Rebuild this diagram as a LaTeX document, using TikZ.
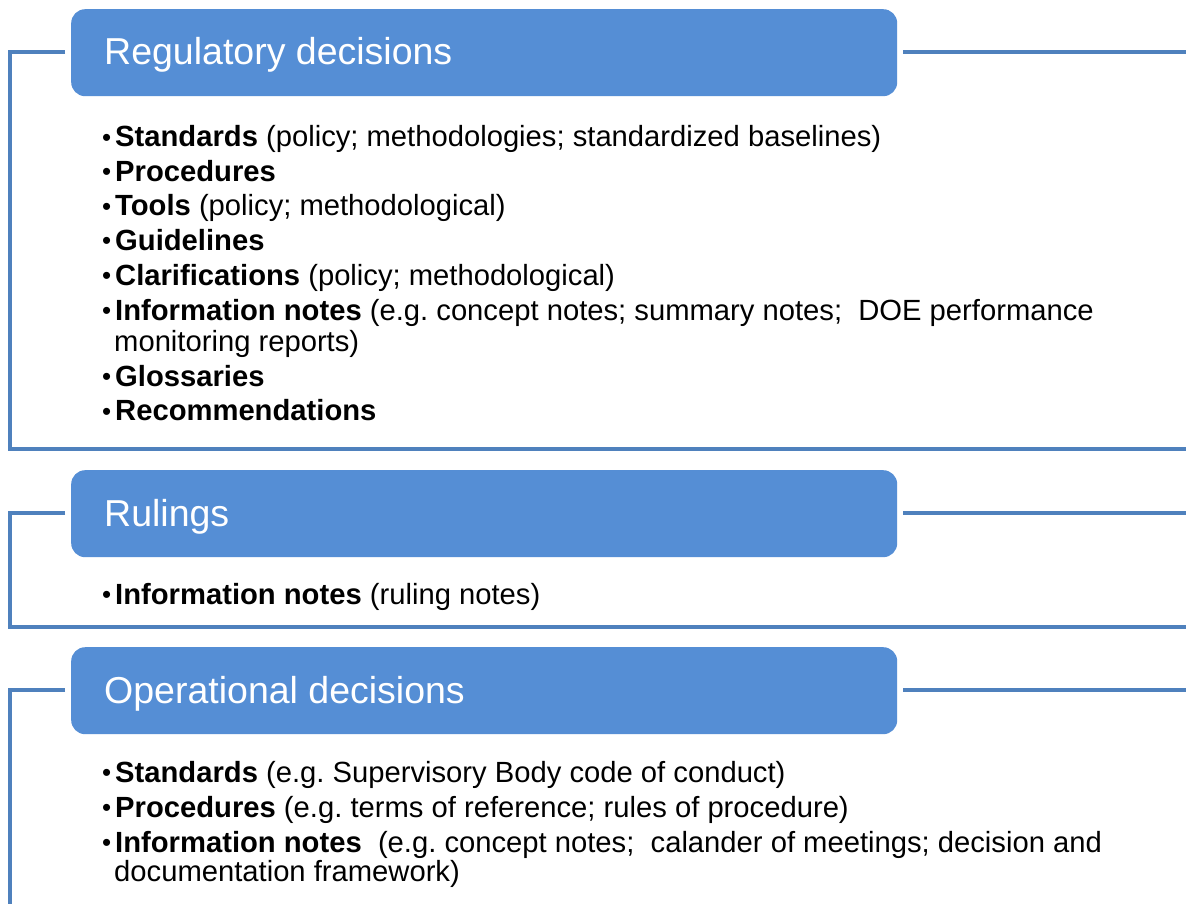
\documentclass[tikz,border=0pt]{standalone}
\usepackage{fontspec}
\setmainfont{Liberation Sans}
\frenchspacing
\definecolor{frameblue}{RGB}{79,129,189}
\definecolor{hdrblue}{RGB}{85,142,213}
\tikzset{
  frameline/.style={draw=frameblue, line width=4pt, line join=miter, line cap=butt},
  hdrbox/.style={fill=hdrblue, draw=none, rounded corners=14pt, anchor=north west,
    minimum width=826pt, minimum height=87pt, inner sep=0pt},
  hdrtext/.style={anchor=base west, inner sep=0pt, text=white,
    font=\fontsize{37.5}{44}\selectfont},
  item/.style={anchor=base west, inner sep=0pt, text=black,
    font=\fontsize{29.2}{35}\selectfont},
}
\newcommand{\bul}{\makebox[13pt][l]{\raisebox{0.5pt}{\fontsize{26}{30}\selectfont •}}}
\begin{document}
\begin{tikzpicture}[x=1pt,y=-1pt]
\useasboundingbox (0,0) rectangle (1186,904);
\fill[white] (0,0) rectangle (1186,904);

% ---------- Regulatory decisions ----------
\node[hdrbox] (h1) at (71,9) {};
\coordinate (l1a) at (65,52);
\coordinate (l1b) at (10,52);
\coordinate (l1c) at (10,449);
\coordinate (l1d) at (1186,449);
\coordinate (r1a) at (903,52);
\coordinate (r1b) at (1186,52);
\draw[frameline] (l1a) -- (l1b) -- (l1c) -- (l1d);
\draw[frameline] (r1a) -- (r1b);
\node[hdrtext] (t1) at (104,65) {Regulatory decisions};
\node[item] (a1) at (102,147) {\bul\textbf{Standards} (policy; methodologies; standardized baselines)};
\node[item] (a2) at (102,181.5) {\bul\textbf{Procedures}};
\node[item] (a3) at (102,216) {\bul\textbf{Tools} (policy; methodological)};
\node[item] (a4) at (102,250.5) {\bul\textbf{Guidelines}};
\node[item] (a5) at (102,285) {\bul\textbf{Clarifications} (policy; methodological)};
\node[item] (a6) at (102,320) {\bul\textbf{Information notes} (e.g. concept notes; summary notes;\ \ DOE performance};
\node[item] (a6b) at (114,351) {monitoring reports)};
\node[item] (a7) at (102,386) {\bul\textbf{Glossaries}};
\node[item] (a8) at (102,420.5) {\bul\textbf{Recommendations}};

% ---------- Rulings ----------
\node[hdrbox] (h2) at (71,470) {};
\coordinate (l2a) at (65,513);
\coordinate (l2b) at (10,513);
\coordinate (l2c) at (10,627);
\coordinate (l2d) at (1186,627);
\coordinate (r2a) at (903,513);
\coordinate (r2b) at (1186,513);
\draw[frameline] (l2a) -- (l2b) -- (l2c) -- (l2d);
\draw[frameline] (r2a) -- (r2b);
\node[hdrtext] (t2) at (104,526) {Rulings};
\node[item] (b1) at (102,604) {\bul\textbf{Information notes} (ruling notes)};

% ---------- Operational decisions ----------
\node[hdrbox] (h3) at (71,647) {};
\coordinate (l3a) at (65,690);
\coordinate (l3b) at (10,690);
\coordinate (l3c) at (10,904);
\coordinate (r3a) at (903,690);
\coordinate (r3b) at (1186,690);
\draw[frameline] (l3a) -- (l3b) -- (l3c);
\draw[frameline] (r3a) -- (r3b);
\node[hdrtext] (t3) at (104,703) {Operational decisions};
\node[item] (c1) at (102,782) {\bul\textbf{Standards} (e.g. Supervisory Body code of conduct)};
\node[item] (c2) at (102,817) {\bul\textbf{Procedures} (e.g. terms of reference; rules of procedure)};
\node[item] (c3) at (102,852) {\bul\textbf{Information notes}\ \ (e.g. concept notes;\ \ calander of meetings; decision and};
\node[item] (c3b) at (114,881) {documentation framework)};
\end{tikzpicture}
\end{document}
